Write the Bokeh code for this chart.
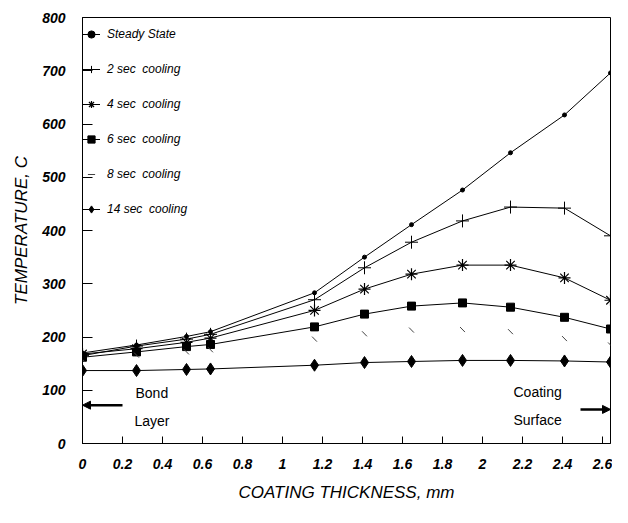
from bokeh.plotting import figure
from bokeh.models import FixedTicker, Legend, LegendItem, Arrow, NormalHead, Range1d, Label
from bokeh.embed import file_html
from bokeh.resources import INLINE

# ---- data ----
thickness = [0.0, 0.27, 0.52, 0.64, 1.16, 1.41, 1.645, 1.90, 2.14, 2.41, 2.64]
steady = [170, 185, 201, 210, 283, 350, 411, 476, 546, 617, 696]
cool2 = [165, 183, 196, 205, 270, 330, 378, 418, 444, 442, 390]
cool4 = [168, 178, 190, 198, 250, 290, 318, 335, 335, 311, 269]
cool6 = [162, 172, 182, 186, 219, 243, 258, 264, 256, 237, 215]
cool8 = [158, 166, 172, 176, 196, 206, 213, 214, 210, 197, 185]
cool14 = [137, 137, 139, 140, 147, 152, 154, 156, 156, 155, 153]

x_ticks = [0, 0.2, 0.4, 0.6, 0.8, 1, 1.2, 1.4, 1.6, 1.8, 2, 2.2, 2.4, 2.6]
x_tick_labels = ["0", "0.2", "0.4", "0.6", "0.8", "1", "1.2", "1.4", "1.6", "1.8", "2", "2.2", "2.4", "2.6"]
y_ticks = [0, 100, 200, 300, 400, 500, 600, 700, 800]
y_tick_labels = ["0", "100", "200", "300", "400", "500", "600", "700", "800"]

labels = ["Steady State", "2 sec  cooling", "4 sec  cooling", "6 sec  cooling",
          "8 sec  cooling", "14 sec  cooling"]

FONT = "Liberation Sans"

p = figure(width=612, height=507, output_backend="svg", toolbar_location=None,
           x_range=Range1d(0, 2.64), y_range=Range1d(0, 800),
           min_border_left=82, min_border_right=2, min_border_top=17, min_border_bottom=64)
p.background_fill_color = "white"
p.border_fill_color = "white"
p.outline_line_color = "black"
p.outline_line_width = 1
p.xgrid.visible = False
p.ygrid.visible = False

# axes
p.xaxis.ticker = FixedTicker(ticks=x_ticks)
p.xaxis.major_label_overrides = {t: l for t, l in zip(x_ticks, x_tick_labels)}
p.yaxis.ticker = FixedTicker(ticks=y_ticks)
p.yaxis.major_label_overrides = {t: l for t, l in zip(y_ticks, y_tick_labels)}
for ax in (p.xaxis, p.yaxis):
    ax.axis_line_color = "black"
    ax.major_tick_line_color = "black"
    ax.major_tick_out = 0
    ax.minor_tick_line_color = None
    ax.major_label_text_font = FONT
    ax.major_label_text_font_style = "bold italic"
    ax.major_label_text_font_size = "14px"
    ax.major_label_text_color = "black"
    ax.axis_label_text_font = FONT
    ax.axis_label_text_font_style = "italic"
    ax.axis_label_text_font_size = "17px"
    ax.axis_label_text_color = "black"
p.xaxis.major_tick_in = 7
p.yaxis.major_tick_in = 10
p.xaxis.major_label_standoff = 15
p.yaxis.major_label_standoff = 17
p.xaxis.axis_label = "COATING THICKNESS, mm"
p.yaxis.axis_label = "TEMPERATURE, C"
p.xaxis.axis_label_standoff = 11
p.yaxis.axis_label_standoff = 8

items = []
# Steady state
l0 = p.line(thickness, steady, line_color="black", line_width=1)
s0 = p.scatter(thickness, steady, marker="circle", size=4, fill_color="black", line_color="black")
items.append(LegendItem(label=labels[0], renderers=[l0, s0]))
# 2 sec
l1 = p.line(thickness, cool2, line_color="black", line_width=1)
s1 = p.scatter(thickness, cool2, marker="cross", size=13, line_color="black", line_width=1)
items.append(LegendItem(label=labels[1], renderers=[l1, s1]))
# 4 sec
l2 = p.line(thickness, cool4, line_color="black", line_width=1)
s2 = p.scatter(thickness, cool4, marker="asterisk", size=12, line_color="black", line_width=1.2)
items.append(LegendItem(label=labels[2], renderers=[l2, s2]))
# 6 sec
l3 = p.line(thickness, cool6, line_color="black", line_width=1)
s3 = p.scatter(thickness, cool6, marker="square", size=8, fill_color="black", line_color="black")
items.append(LegendItem(label=labels[3], renderers=[l3, s3]))
# 8 sec (faint in the reference)
s4 = p.scatter(thickness, cool8, marker="dash", size=7, angle=-0.8, line_color="#444444", line_width=1)
items.append(LegendItem(label=labels[4], renderers=[s4]))
# 14 sec
l5 = p.line(thickness, cool14, line_color="black", line_width=1)
s5 = p.scatter(thickness, cool14, marker="diamond", size=12, fill_color="black", line_color="black")
items.append(LegendItem(label=labels[5], renderers=[l5, s5]))

legend = Legend(items=items, location="top_left", margin=0, padding=0,
                glyph_width=18, glyph_height=34, label_height=34, spacing=1,
                label_standoff=7, label_text_font=FONT, label_text_font_style="italic",
                label_text_font_size="12px", label_text_color="black",
                border_line_color=None, background_fill_alpha=0)
p.add_layout(legend)

# annotations
ann_text = ["Bond", "Layer", "Coating", "Surface"]
ann_x = [0.265, 0.26, 2.155, 2.155]
ann_y = [95, 42, 96, 45]
for t, x, y in zip(ann_text, ann_x, ann_y):
    p.add_layout(Label(x=x, y=y, text=t, text_font=FONT, text_font_size="14px",
                       text_baseline="middle", text_align="left", text_color="black"))

arrow_y = [72, 64]
p.add_layout(Arrow(end=NormalHead(size=8, fill_color="black", line_color="black"),
                   x_start=0.2, y_start=arrow_y[0], x_end=0.0, y_end=arrow_y[0],
                   line_width=2.5, line_color="black"))
p.add_layout(Arrow(end=NormalHead(size=8, fill_color="black", line_color="black"),
                   x_start=2.49, y_start=arrow_y[1], x_end=2.64, y_end=arrow_y[1],
                   line_width=2.5, line_color="black"))

open("out.html", "w").write(file_html(p, INLINE))
